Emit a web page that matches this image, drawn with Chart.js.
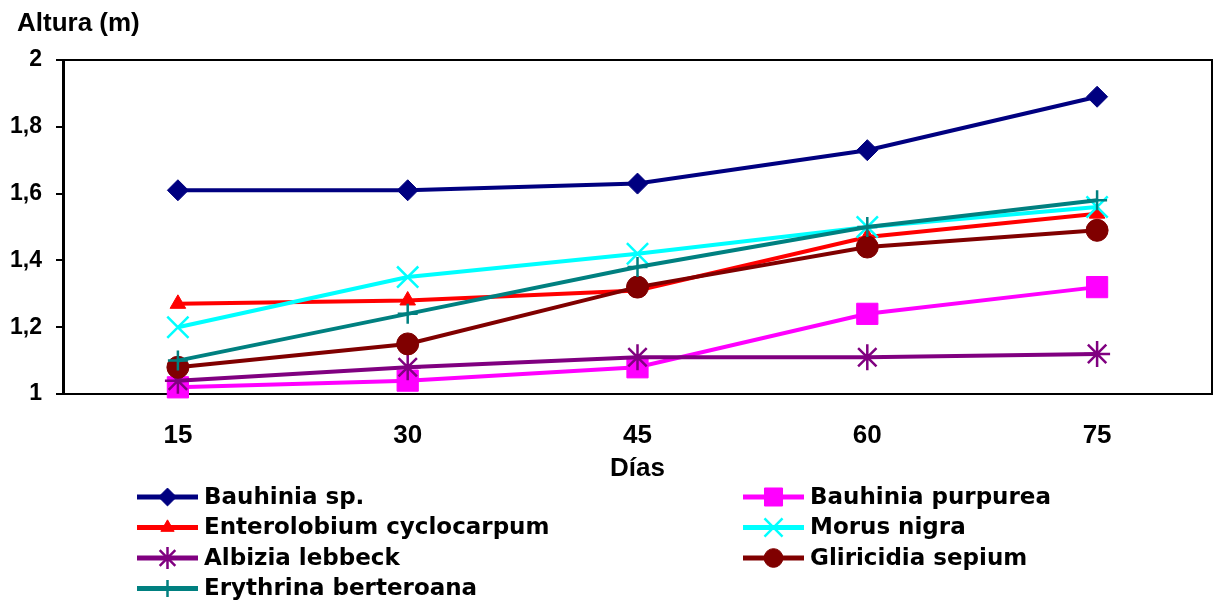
<!DOCTYPE html>
<html lang="es">
<head>
<meta charset="utf-8">
<title>Altura (m) según días</title>
<script src="https://cdn.jsdelivr.net/npm/chart.js@4.4.1/dist/chart.umd.min.js"></script>
<style>
  html, body { margin: 0; padding: 0; background: #fff; overflow: hidden; }
  #wrap { position: relative; width: 1215px; height: 607px; }
  #chart { display: block; }
</style>
</head>
<body>
<div id="wrap"><canvas id="chart"></canvas></div>
<script>
// Datos
const dias = ['15', '30', '45', '60', '75'];
const yMin = 1;
const yMax = 2;
const yStep = 0.2;

const especies = [
  'Bauhinia sp.', 'Bauhinia purpurea', 'Enterolobium cyclocarpum',
  'Morus nigra', 'Albizia lebbeck', 'Gliricidia sepium', 'Erythrina berteroana'
];

const bauhiniaSp       = [1.61, 1.61, 1.63, 1.73, 1.89];
const bauhiniaPurpurea = [1.02, 1.04, 1.08, 1.24, 1.32];
const enterolobium     = [1.27, 1.28, 1.31, 1.47, 1.54];
const morusNigra       = [1.20, 1.35, 1.42, 1.50, 1.56];
const albiziaLebbeck   = [1.04, 1.08, 1.11, 1.11, 1.12];
const gliricidia       = [1.08, 1.15, 1.32, 1.44, 1.49];
const erythrina        = [1.10, 1.24, 1.38, 1.50, 1.58];

const series = [bauhiniaSp, bauhiniaPurpurea, enterolobium, morusNigra, albiziaLebbeck, gliricidia, erythrina];

// Estilos de cada serie (marcador tipo Excel)
const colores = ['#000080', '#FF00FF', '#FF0000', '#00FFFF', '#800080', '#800000', '#008080'];
const marcadores = ['rectRot', 'rect', 'triangle', 'crossRot', 'star', 'circle', 'cross'];
const radios = [10.5, 15, 9, 15, 13, 11, 10];
const bordes = [1, 1, 1, 2.5, 2.5, 1, 2.5];

const FONT = "'Liberation Sans', Arial, sans-serif";
const LEGEND_FONT = "'DejaVu Sans', sans-serif";

const fmt = v => {
  const r = Math.round(v * 10) / 10;
  return Number.isInteger(r) ? String(r) : r.toFixed(1).replace('.', ',');
};

const datasets = series.map((data, i) => ({
  label: especies[i],
  data,
  borderColor: colores[i],
  backgroundColor: colores[i],
  borderWidth: 4,
  pointStyle: marcadores[i],
  pointRadius: radios[i],
  pointBackgroundColor: colores[i],
  pointBorderColor: colores[i],
  pointBorderWidth: bordes[i],
  tension: 0,
  clip: false,
  order: series.length - 1 - i   // la última serie queda encima
}));

// Marco, título del eje Y y leyenda en dos columnas
const extras = {
  id: 'extras',
  afterDraw(chart) {
    const { ctx, chartArea: a } = chart;
    ctx.save();

    // marco superior y derecho del área de trazado
    ctx.strokeStyle = '#000';
    ctx.lineWidth = 2;
    ctx.beginPath();
    ctx.moveTo(a.left, a.top);
    ctx.lineTo(a.right, a.top);
    ctx.lineTo(a.right, a.bottom);
    ctx.stroke();

    // título del eje Y
    ctx.fillStyle = '#000';
    ctx.font = `bold 26px ${FONT}`;
    ctx.textAlign = 'left';
    ctx.textBaseline = 'middle';
    ctx.fillText('Altura (m)', 17, 24);

    // leyenda
    const cols = [137, 743];
    const rowY = 497;
    const rowH = 30.5;
    especies.forEach((name, i) => {
      const x0 = cols[i % 2];
      const y = rowY + Math.floor(i / 2) * rowH;
      ctx.strokeStyle = colores[i];
      ctx.fillStyle = colores[i];
      ctx.lineWidth = 5;
      ctx.beginPath();
      ctx.moveTo(x0, y);
      ctx.lineTo(x0 + 61, y);
      ctx.stroke();
      ctx.lineWidth = bordes[i];
      Chart.helpers.drawPoint(ctx, {
        pointStyle: marcadores[i],
        radius: radios[i] * 0.85,
        rotation: 0,
        borderWidth: bordes[i]
      }, x0 + 30.5, y);

      ctx.fillStyle = '#000';
      ctx.font = `bold 23px ${LEGEND_FONT}`;
      ctx.textBaseline = 'middle';
      ctx.fillText(name, x0 + 67, y + 1);
    });
    ctx.restore();
  }
};

new Chart(document.getElementById('chart'), {
  type: 'line',
  data: { labels: dias, datasets },
  plugins: [extras],
  options: {
    responsive: true,
    maintainAspectRatio: false,
    animation: false,
    devicePixelRatio: 1,
    layout: { autoPadding: false, padding: { top: 60, right: 3, left: 0, bottom: 0 } },
    plugins: {
      legend: { display: false },
      tooltip: { enabled: false }
    },
    scales: {
      x: {
        type: 'category',
        offset: true,
        grid: { display: false },
        border: { color: '#000', width: 2 },
        ticks: { color: '#000', font: { family: FONT, size: 26, weight: 'bold' }, padding: 18 },
        title: {
          display: true,
          text: 'Días',
          color: '#000',
          font: { family: FONT, size: 26, weight: 'bold' },
          padding: { top: 0, bottom: 123 }
        },
        afterFit: s => {
          s.height = 213;
          // las etiquetas quedan dentro gracias al offset
          s.paddingLeft = 0;
          s.paddingRight = 0;
        }
      },
      y: {
        min: yMin,
        max: yMax,
        grid: { drawOnChartArea: false, tickLength: 7, color: '#000', lineWidth: 2 },
        border: { color: '#000', width: 3 },
        ticks: {
          stepSize: yStep,
          color: '#000',
          padding: 14,
          font: { family: FONT, size: 23, weight: 'bold' },
          callback: v => fmt(v)
        },
        afterFit: s => { s.width = 63; }
      }
    }
  }
});
</script>
</body>
</html>
